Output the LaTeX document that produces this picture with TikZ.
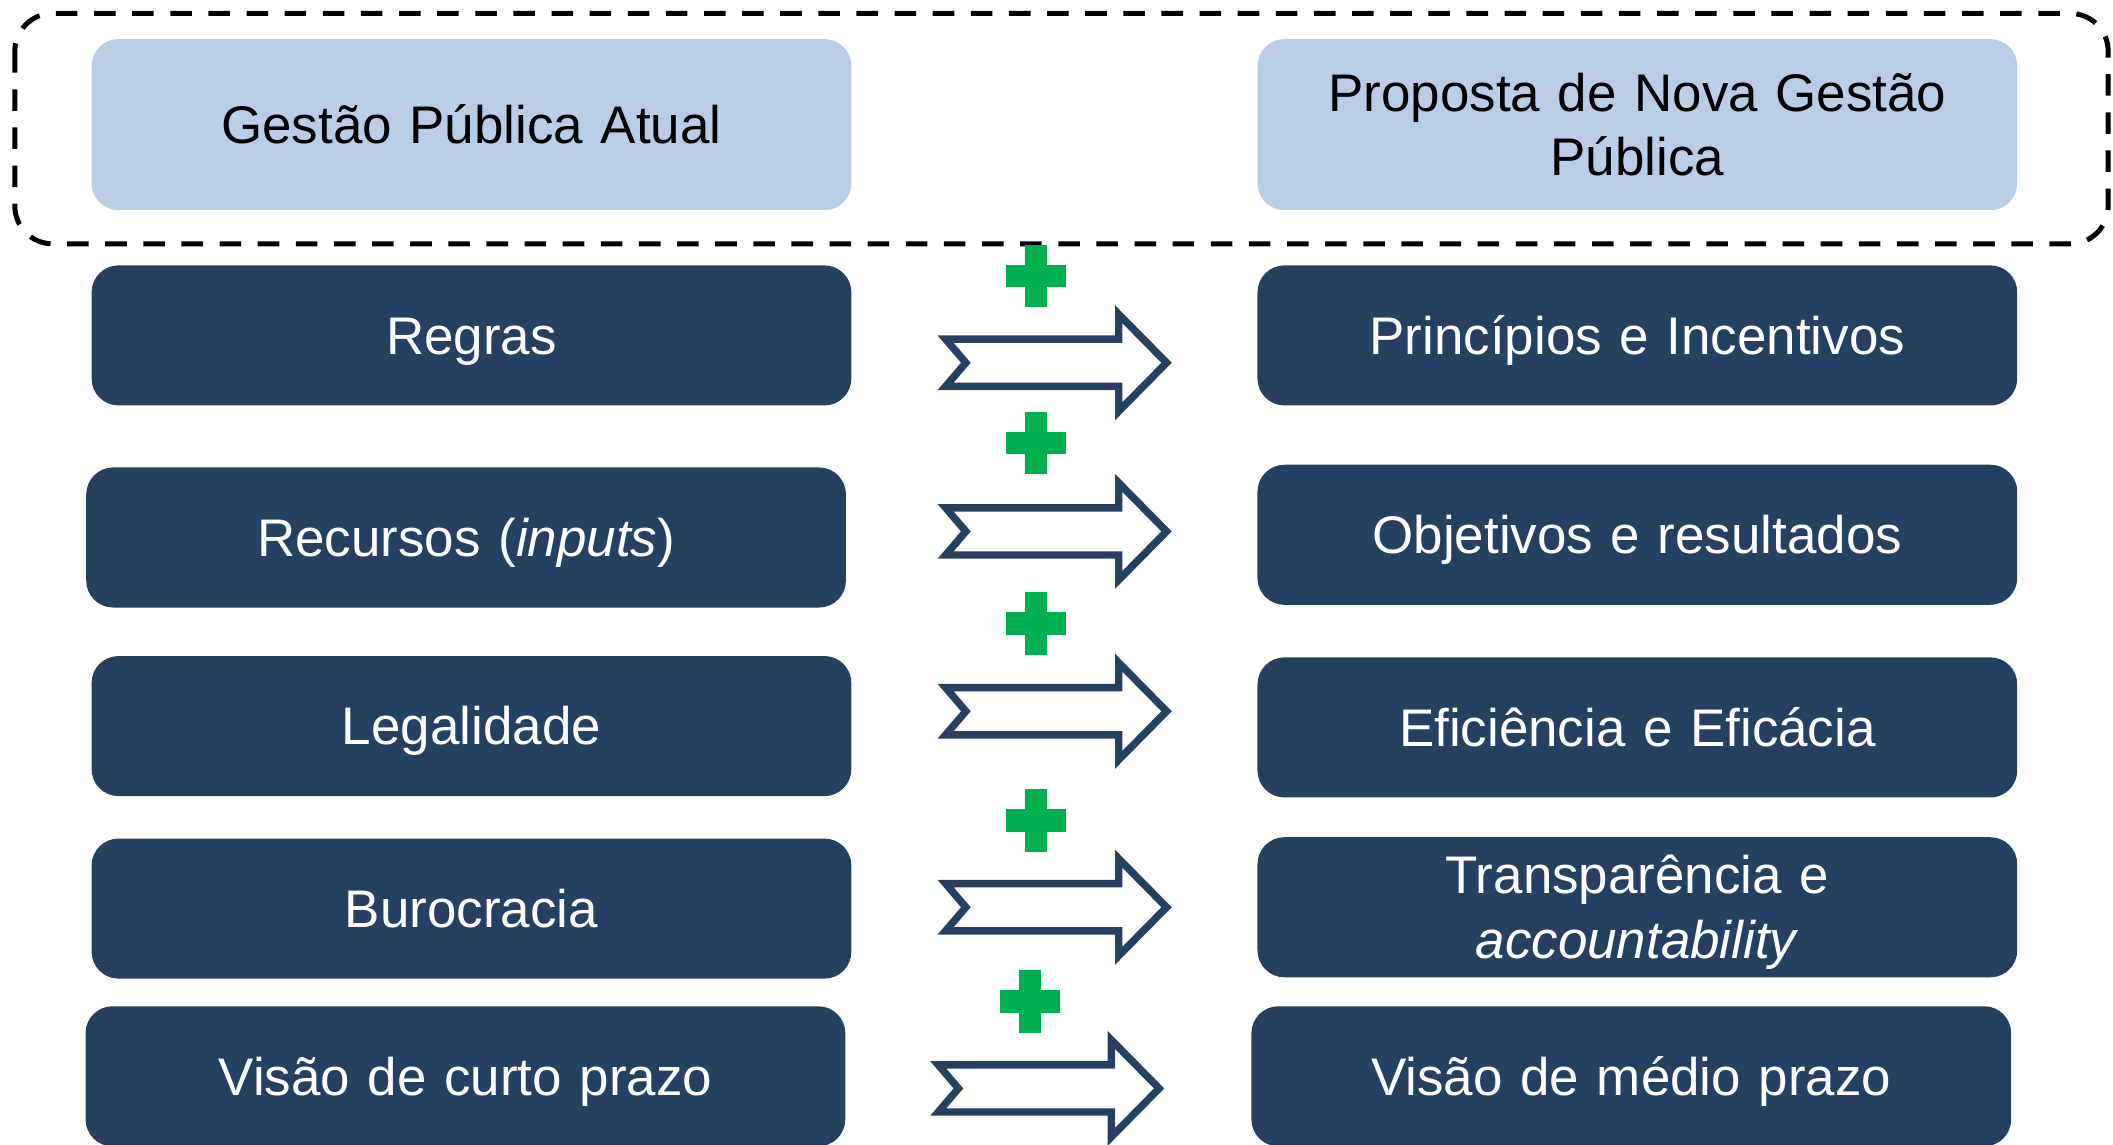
\documentclass[tikz,border=0pt]{standalone}
\usepackage{fontspec}
\setmainfont{Liberation Sans}
\definecolor{cDark}{HTML}{264062}
\definecolor{cLight}{HTML}{B9CDE5}
\definecolor{cGreen}{HTML}{00B050}
\begin{document}
\begin{tikzpicture}[x=1pt,y=-1pt,
  basebox/.style={rounded corners=20pt, inner sep=0pt, text width=540pt, align=center,
    minimum width=564pt, font=\fontsize{39.3}{48}\selectfont,
    text height=28.1pt, text depth=0pt},
  darkbox/.style={basebox, minimum height=104pt, fill=cDark, text=white},
  lightbox/.style={basebox, minimum height=127pt, fill=cLight, text=black},
  twolines/.style={text depth=48pt},
  frame/.style={draw=black, line width=3.7pt, dash pattern=on 16pt off 12.3pt, rounded corners=28pt},
  arrowline/.style={draw=cDark, fill=white, line width=5.5pt, line join=miter},
  blockarrow/.pic={\path[arrowline] (8,-17.5) -- (136.5,-17.5) -- (136.5,-36) -- (172,0) -- (136.5,36) -- (136.5,17.5) -- (8,17.5) -- (23,0) -- cycle;},
  plussign/.pic={\fill[cGreen] (-8.4,-23.2) rectangle (8.4,23.2); \fill[cGreen] (-22.3,-8.4) rectangle (22.3,8.4);}
]
\useasboundingbox (0,0) rectangle (1568.6,850);

% header frame
\draw[frame] (11,10) rectangle (1565,181);

% header boxes
\node[lightbox] (g0) at (350,92.5) {Gestão Pública Atual};
\node[lightbox, twolines] (p0) at (1215.5,92.5) {Proposta de Nova Gestão\\Pública};

% left column
\node[darkbox] (l1) at (350,249) {Regras};
\node[darkbox] (l2) at (346,399) {Recursos (\textit{inputs})};
\node[darkbox] (l3) at (350,539) {Legalidade};
\node[darkbox] (l4) at (350,674.5) {Burocracia};
\node[darkbox] (l5) at (345.5,799) {Visão de curto prazo};

% right column
\node[darkbox] (r1) at (1215.5,249) {Princípios e Incentivos};
\node[darkbox] (r2) at (1215.5,397) {Objetivos e resultados};
\node[darkbox] (r3) at (1215.5,540) {Eficiência e Eficácia};
\node[darkbox, twolines] (r4) at (1215.5,673.5) {Transparência e\\\textit{accountability}};
\node[darkbox] (r5) at (1211,799) {Visão de médio prazo};

% block arrows
\pic at (694,269.3) {blockarrow};
\pic at (694,394.5) {blockarrow};
\pic at (694,528) {blockarrow};
\pic at (694,673.5) {blockarrow};
\pic at (688.5,808) {blockarrow};

% plus signs
\pic at (769,205) {plussign};
\pic at (769,329) {plussign};
\pic at (769,463) {plussign};
\pic at (769,609) {plussign};
\pic at (764.6,743.5) {plussign};
\end{tikzpicture}
\end{document}
